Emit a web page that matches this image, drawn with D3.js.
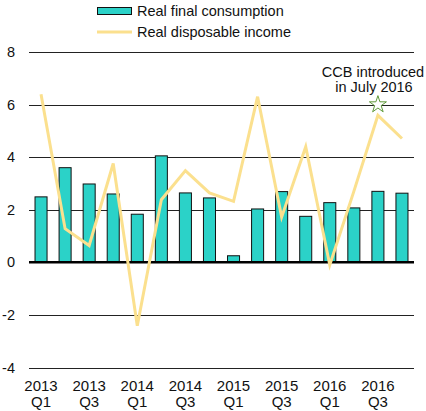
<!DOCTYPE html>
<html lang="en">
<head>
  <meta charset="UTF-8">
  <title>Real final consumption vs real disposable income</title>
  <style>
    body { margin: 0; background: #fff; }
    svg text { font-family: "Liberation Sans", Arial, sans-serif; fill: #111; }
  </style>
  <script src="https://d3js.org/d3.v7.min.js"></script>
</head>
<body>
  <svg id="chart" width="426" height="411"></svg>
  <script>
    // Quarterly growth, %
    const quarters = ["2013Q1","2013Q2","2013Q3","2013Q4","2014Q1","2014Q2","2014Q3","2014Q4",
                      "2015Q1","2015Q2","2015Q3","2015Q4","2016Q1","2016Q2","2016Q3","2016Q4"];
    const consumption = [2.49, 3.6, 2.98, 2.6, 1.83, 4.05, 2.64, 2.45, 0.25, 2.03, 2.69, 1.75, 2.27, 2.07, 2.7, 2.63];
    const income = [6.39, 1.28, 0.64, 3.76, -2.41, 2.38, 3.49, 2.64, 2.32, 6.3, 1.72, 4.4, -0.1, 2.7, 5.59, 4.71];
    const yTicks = [-4, -2, 0, 2, 4, 6, 8];
    const tickQuarters = ["2013Q1","2013Q3","2014Q1","2014Q3","2015Q1","2015Q3","2016Q1","2016Q3"];
    const ccbQuarter = "2016Q3";
    const ccbValue = 6;

    const svg = d3.select("#chart");

    const x = d3.scaleBand().domain(quarters).range([29, 414]).paddingInner(0.5).paddingOuter(0.25);
    const y = d3.scaleLinear().domain([-4, 8]).range([367.5, 52]);
    const cx = q => x(q) + x.bandwidth() / 2;

    // gridlines
    svg.append("g").selectAll("line")
      .data(yTicks)
      .join("line")
      .attr("x1", 29).attr("x2", 414)
      .attr("y1", d => Math.round(y(d)) + 0.5).attr("y2", d => Math.round(y(d)) + 0.5)
      .attr("stroke", "#222")
      .attr("stroke-width", 1);

    // y labels
    svg.append("g").selectAll("text")
      .data(yTicks)
      .join("text")
      .attr("x", 15)
      .attr("y", d => y(d) + 5)
      .attr("text-anchor", "end")
      .attr("font-size", 14.5)
      .text(d => d);

    // bars
    svg.append("g").selectAll("rect")
      .data(consumption)
      .join("rect")
      .attr("x", (d, i) => x(quarters[i]))
      .attr("width", x.bandwidth())
      .attr("y", d => y(Math.max(0, d)))
      .attr("height", d => Math.abs(y(d) - y(0)))
      .attr("fill", "#2bd2c8")
      .attr("stroke", "#111")
      .attr("stroke-width", 1);

    // zero line
    svg.append("line")
      .attr("x1", 29).attr("x2", 414)
      .attr("y1", y(0)).attr("y2", y(0))
      .attr("stroke", "#000")
      .attr("stroke-width", 2.5);

    // income line
    svg.append("path")
      .datum(income)
      .attr("fill", "none")
      .attr("stroke", "#fbe08e")
      .attr("stroke-width", 3)
      .attr("stroke-linejoin", "miter")
      .attr("d", d3.line().x((d, i) => cx(quarters[i])).y(d => y(d)));

    // x labels
    const xl = svg.append("g").selectAll("text")
      .data(tickQuarters)
      .join("text")
      .attr("text-anchor", "middle")
      .attr("font-size", 15)
      .attr("x", d => cx(d));
    xl.append("tspan").attr("x", d => cx(d)).attr("y", 391).text(d => d.slice(0, 4));
    xl.append("tspan").attr("x", d => cx(d)).attr("y", 407).text(d => d.slice(4));

    // CCB annotation
    svg.append("path")
      .attr("d", d3.symbol(d3.symbolStar, 90)())
      .attr("transform", `translate(${cx(ccbQuarter)},${y(ccbValue)})`)
      .attr("fill", "#fff")
      .attr("stroke", "#5f9a3a")
      .attr("stroke-width", 1);
    svg.append("text").attr("x", 373).attr("y", 77).attr("text-anchor", "middle")
      .attr("font-size", 14.5).text("CCB introduced");
    svg.append("text").attr("x", 374).attr("y", 92).attr("text-anchor", "middle")
      .attr("font-size", 14.5).text("in July 2016");

    // legend
    const lg = svg.append("g");
    lg.append("rect").attr("x", 97.5).attr("y", 7.5).attr("width", 34).attr("height", 7)
      .attr("fill", "#2bd2c8").attr("stroke", "#111");
    lg.append("text").attr("x", 137).attr("y", 16).attr("font-size", 14.5).text("Real final consumption");
    lg.append("line").attr("x1", 97).attr("x2", 132).attr("y1", 32).attr("y2", 32)
      .attr("stroke", "#fbe08e").attr("stroke-width", 3);
    lg.append("text").attr("x", 137).attr("y", 37).attr("font-size", 14.5).text("Real disposable income");
  </script>
</body>
</html>
